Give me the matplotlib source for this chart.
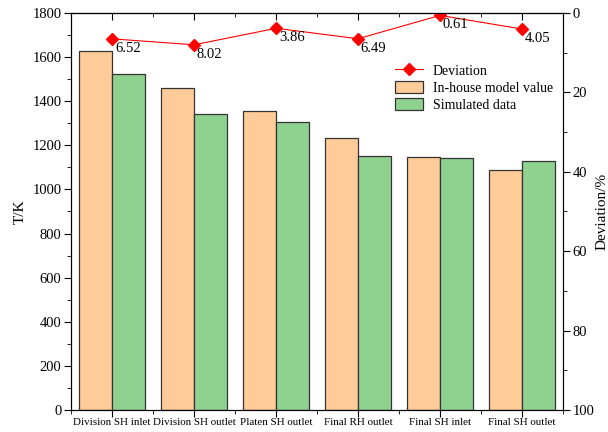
import numpy as np
import matplotlib
matplotlib.use("Agg")
import matplotlib.pyplot as plt
from matplotlib.ticker import MultipleLocator, FixedLocator

plt.rcParams['font.family'] = 'serif'
plt.rcParams['font.serif'] = ['Liberation Serif', 'DejaVu Serif']

# Temperatures at each heating-surface location
locations = ["Division SH inlet", "Division SH outlet", "Platen SH outlet",
             "Final RH outlet", "Final SH inlet", "Final SH outlet"]
model_T = [1629, 1458, 1357, 1232, 1148, 1087]
simulated_T = [1522, 1342, 1304, 1153, 1141, 1130]
deviation = [6.52, 8.02, 3.86, 6.49, 0.61, 4.05]

fig = plt.figure(figsize=(6.08, 4.32), dpi=100)
ax = fig.add_axes([0.117, 0.051, 0.809, 0.919])

x = np.arange(len(locations))
w = 0.4
b1 = ax.bar(x - w / 2, model_T, w, color='#FFCC99', edgecolor='#333333',
            linewidth=0.9, label='In-house model value')
b2 = ax.bar(x + w / 2, simulated_T, w, color='#8FD18F', edgecolor='#333333',
            linewidth=0.9, label='Simulated data')

ax.set_xlim(-0.5, len(locations) - 0.5)
ax.set_ylim(0, 1800)
ax.yaxis.set_major_locator(MultipleLocator(200))
ax.yaxis.set_minor_locator(MultipleLocator(100))
ax.set_xticks(x)
ax.set_xticklabels(locations, fontsize=7.9)
ax.xaxis.set_minor_locator(FixedLocator(np.arange(-0.5, len(locations), 1.0)))
ax.tick_params(axis='y', which='major', direction='out', length=5, labelsize=10.5, pad=2)
ax.tick_params(axis='y', which='minor', direction='out', length=3)
ax.tick_params(axis='x', which='major', direction='out', length=5, pad=1)
ax.tick_params(axis='x', which='minor', direction='out', length=3)
ax.set_ylabel('T/K', fontsize=11, labelpad=4)

# top axis: ticks only, pointing inward
top = ax.secondary_xaxis('top')
top.set_xticks(x)
top.xaxis.set_minor_locator(FixedLocator(np.arange(-0.5, len(locations), 1.0)))
top.tick_params(which='major', direction='in', length=5, labeltop=False)
top.tick_params(which='minor', direction='in', length=3)

# deviation on the inverted right axis
ax2 = ax.twinx()
ln, = ax2.plot(x, deviation, color='#FF0000', linewidth=0.8, marker='D',
               markersize=6, label='Deviation')
ax2.set_ylim(100, 0)
ax2.yaxis.set_major_locator(MultipleLocator(20))
ax2.yaxis.set_minor_locator(MultipleLocator(10))
ax2.tick_params(axis='y', which='major', direction='out', length=5, labelsize=10.5, pad=2)
ax2.tick_params(axis='y', which='minor', direction='out', length=3)
ax2.set_ylabel('Deviation/%', fontsize=11, labelpad=1, rotation=90)
ax2.set_xlim(ax.get_xlim())

for xi, d in zip(x, deviation):
    ax2.annotate(f"{d:.2f}", (xi, d), xytext=(2, -2), textcoords='offset points',
                 ha='left', va='top', fontsize=10.5)

ax2.legend([ln, b1, b2], ['Deviation', 'In-house model value', 'Simulated data'],
           loc='upper left', bbox_to_anchor=(0.648, 0.885), frameon=False,
           fontsize=10, handlelength=2.0, handleheight=0.9, labelspacing=0.25,
           handletextpad=0.7, borderaxespad=0)

fig.savefig('out.png', dpi=100)
